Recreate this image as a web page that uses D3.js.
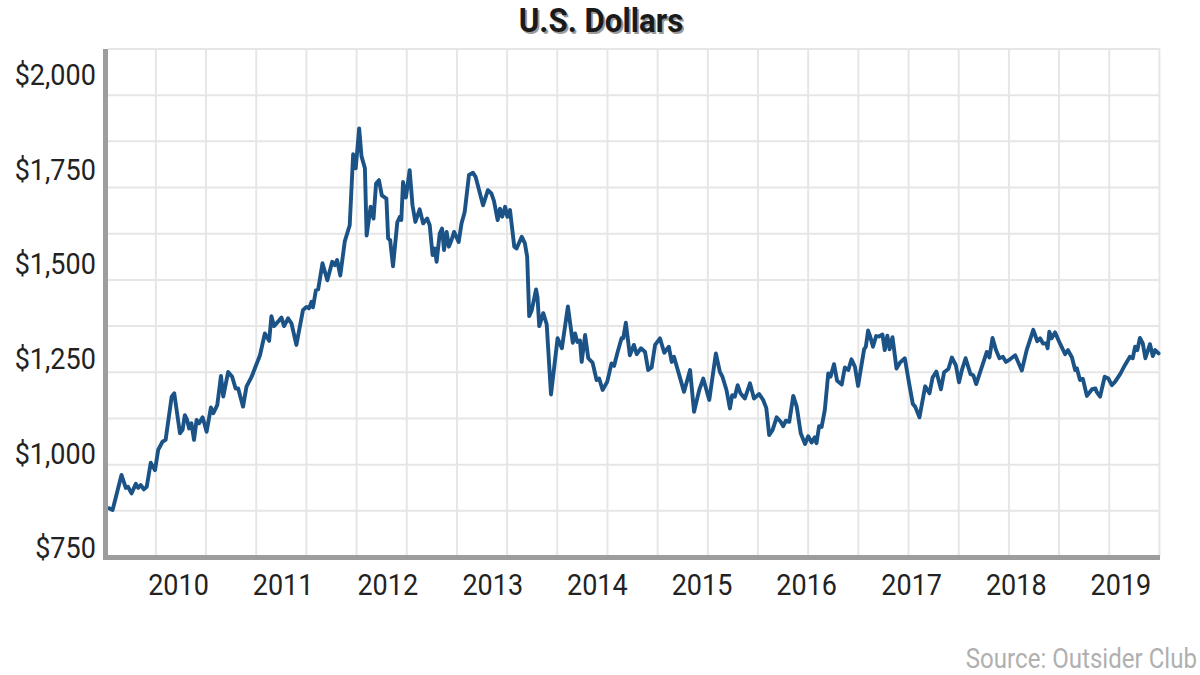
<!DOCTYPE html>
<html><head><meta charset="utf-8">
<script src="https://cdn.jsdelivr.net/npm/d3@7"></script>
<style>
body{margin:0;background:#fff;}
svg{display:block;}
text{font-family:Roboto,"Noto Sans",sans-serif;}
</style>
</head><body>
<svg id="chart" width="1200" height="675"></svg>
<script>
// ---------------- DATA ----------------
const dates = [
"2009-05-06","2009-05-18","2009-06-18","2009-07-03","2009-07-11","2009-07-23","2009-08-07","2009-08-15","2009-08-24","2009-09-04","2009-09-14","2009-09-28","2009-10-13","2009-10-24","2009-11-08","2009-11-19","2009-12-10","2009-12-19",
"2010-01-08","2010-01-17","2010-01-25","2010-02-02","2010-02-09","2010-02-17","2010-02-26","2010-03-07","2010-03-16","2010-03-28","2010-04-11","2010-04-26","2010-05-04","2010-05-18","2010-05-31","2010-06-08","2010-06-25","2010-07-09","2010-07-21","2010-07-30","2010-08-16","2010-08-28","2010-09-15","2010-09-26","2010-10-14","2010-10-31","2010-11-15","2010-11-23","2010-12-02","2010-12-16","2010-12-28",
"2011-01-06","2011-01-20","2011-02-01","2011-02-18","2011-03-13","2011-03-25","2011-04-03","2011-04-12","2011-04-17","2011-04-27","2011-05-05","2011-05-20","2011-06-06","2011-06-23","2011-07-02","2011-07-10","2011-07-21","2011-08-06","2011-08-23","2011-09-04","2011-09-13","2011-09-25","2011-10-03","2011-10-15","2011-10-21","2011-11-04","2011-11-14","2011-11-23","2011-12-03","2011-12-13","2011-12-29",
"2012-01-04","2012-01-11","2012-01-21","2012-02-05","2012-02-14","2012-02-19","2012-02-25","2012-03-06","2012-03-19","2012-03-29","2012-04-08","2012-04-23","2012-05-05","2012-05-19","2012-05-28","2012-06-07","2012-06-15","2012-06-21","2012-07-02","2012-07-10","2012-07-17","2012-07-26","2012-08-03","2012-08-12","2012-08-21","2012-09-06","2012-09-16","2012-09-27","2012-10-12","2012-10-26","2012-11-04","2012-11-30","2012-12-17","2012-12-29",
"2013-01-07","2013-01-20","2013-01-28","2013-02-05","2013-02-15","2013-02-23","2013-03-04","2013-03-19","2013-03-27","2013-04-14","2013-04-25","2013-05-03","2013-05-10","2013-05-19","2013-06-03","2013-06-08","2013-06-14","2013-06-28","2013-07-10","2013-07-25","2013-08-17","2013-09-01","2013-09-22","2013-10-09","2013-10-17","2013-10-25","2013-11-03","2013-11-09","2013-11-21","2013-12-02","2013-12-17","2013-12-31",
"2014-01-09","2014-01-21","2014-02-06","2014-02-21","2014-03-02","2014-03-13","2014-03-28","2014-04-03","2014-04-12","2014-04-26","2014-05-10","2014-05-20","2014-06-04","2014-06-18","2014-06-29","2014-07-11","2014-07-23","2014-08-09","2014-08-24","2014-09-09","2014-09-19","2014-09-27","2014-10-12","2014-11-01","2014-11-22","2014-12-06","2014-12-24",
"2015-01-07","2015-01-28","2015-02-20","2015-03-06","2015-03-15","2015-03-29","2015-04-10","2015-04-18","2015-04-27","2015-05-07","2015-05-17","2015-06-01","2015-06-19","2015-07-03","2015-07-21","2015-08-04","2015-08-15","2015-08-25","2015-09-06","2015-09-20","2015-10-04","2015-10-13","2015-10-22","2015-11-03","2015-11-17","2015-11-29","2015-12-13","2015-12-28",
"2016-01-08","2016-01-20","2016-01-31","2016-02-06","2016-02-15","2016-02-24","2016-03-06","2016-03-18","2016-03-26","2016-04-07","2016-04-18","2016-05-04","2016-05-15","2016-05-27","2016-06-07","2016-06-19","2016-06-30","2016-07-12","2016-07-21","2016-07-27","2016-08-04","2016-08-12","2016-08-21","2016-09-01","2016-09-11","2016-09-23","2016-10-01","2016-10-10","2016-10-18","2016-10-28","2016-11-02","2016-11-11","2016-11-23","2016-12-10","2016-12-25",
"2017-01-07","2017-01-15","2017-01-30","2017-02-19","2017-03-06","2017-03-17","2017-03-30","2017-04-15","2017-04-26","2017-05-11","2017-05-23","2017-06-06","2017-06-17","2017-06-27","2017-07-10","2017-07-27","2017-08-06","2017-08-16","2017-09-05","2017-09-22","2017-10-01","2017-10-12","2017-10-24","2017-11-05","2017-11-17","2017-11-28","2017-12-12","2017-12-30",
"2018-01-22","2018-02-08","2018-03-03","2018-03-17","2018-03-27","2018-04-06","2018-04-18","2018-04-22","2018-04-28","2018-05-06","2018-05-18","2018-06-04","2018-06-22","2018-07-02","2018-07-16","2018-07-27","2018-08-02","2018-08-13","2018-08-23","2018-09-06","2018-09-24","2018-10-06","2018-10-10","2018-10-22","2018-11-07","2018-11-20","2018-12-02","2018-12-13","2018-12-31",
"2019-01-17","2019-02-03","2019-02-13","2019-02-21","2019-03-01","2019-03-10","2019-03-20","2019-03-29","2019-04-14","2019-04-24","2019-05-02","2019-05-14"
];
const prices = [
882,877,972,937,940,922,948,937,945,933,940,1005,985,1040,1062,1067,1184,1193,
1085,1094,1134,1121,1098,1112,1067,1121,1112,1128,1089,1155,1139,1161,1240,1184,1251,1238,1206,1206,1157,1211,1238,1260,1296,1355,1335,1402,1375,1387,1398,
1375,1396,1382,1324,1418,1427,1423,1441,1426,1472,1474,1545,1499,1549,1540,1554,1512,1605,1648,1840,1802,1910,1835,1802,1620,1698,1666,1761,1770,1729,1720,
1612,1608,1537,1656,1671,1662,1765,1723,1797,1702,1657,1691,1653,1666,1648,1567,1585,1549,1626,1639,1581,1630,1590,1608,1630,1603,1653,1684,1784,1790,1779,1702,1743,1734,
1714,1662,1693,1671,1698,1671,1689,1590,1585,1617,1599,1562,1402,1418,1474,1453,1375,1410,1380,1190,1342,1315,1428,1330,1355,1332,1336,1278,1351,1288,1276,1229,
1233,1202,1224,1274,1267,1301,1342,1342,1384,1296,1324,1299,1315,1305,1256,1263,1324,1342,1303,1319,1278,1292,1251,1197,1256,1143,1202,
1233,1175,1301,1251,1238,1202,1152,1188,1184,1215,1193,1179,1220,1179,1191,1175,1153,1080,1094,1128,1116,1104,1119,1116,1186,1157,1085,1056,
1077,1060,1074,1058,1104,1102,1148,1247,1238,1272,1227,1217,1263,1256,1285,1265,1213,1270,1312,1319,1363,1345,1319,1348,1347,1352,1310,1349,1312,1345,1315,1260,1276,1288,1220,
1164,1157,1128,1212,1193,1236,1252,1204,1250,1259,1290,1269,1223,1256,1288,1245,1242,1218,1265,1305,1290,1343,1310,1288,1292,1278,1285,1296,
1255,1310,1365,1334,1342,1328,1328,1315,1360,1342,1358,1328,1299,1310,1290,1256,1261,1229,1232,1186,1204,1206,1197,1184,1238,1233,1215,1224,1245,
1270,1292,1288,1319,1310,1343,1328,1288,1326,1294,1310,1301
];
const yTickValues = [750, 1000, 1250, 1500, 1750, 2000];
const xTickYears = [2010, 2011, 2012, 2013, 2014, 2015, 2016, 2017, 2018, 2019];
const titleText = "U.S. Dollars";
const sourceText = "Source: Outsider Club";

// ---------------- LAYOUT ----------------
const svg = d3.select("#chart");
const parse = d3.timeParse("%Y-%m-%d");
const data = dates.map((d, i) => ({date: parse(d), value: prices[i]}));

const L = 108, R = 1160, T = 49, B = 557;
const x = d3.scaleTime().domain([parse("2009-05-02"), parse("2019-05-19")]).range([L, R]);
const y = d3.scaleLinear().domain([750, 2125]).range([B, T]);
const yLabel = d3.scaleLinear().domain([750, 2000]).range([548, 75]);

const gridColor = "#e6e6e6";
const grid = svg.append("g");
// horizontal grid every $125
grid.selectAll("line.h").data(d3.range(750, 2126, 125)).join("line")
  .attr("x1", L).attr("x2", R)
  .attr("y1", d => y(d)).attr("y2", d => y(d))
  .attr("stroke", gridColor).attr("stroke-width", 2);
// vertical grid every 175 days
const gStart = d3.timeDay.offset(x.domain()[0], 167);
const vDates = d3.range(0, 21).map(k => d3.timeDay.offset(gStart, 175 * k)).filter(d => d <= x.domain()[1]);
grid.selectAll("line.v").data(vDates).join("line")
  .attr("x1", d => x(d)).attr("x2", d => x(d))
  .attr("y1", T).attr("y2", B)
  .attr("stroke", gridColor).attr("stroke-width", 2);

// line
const line = d3.line().x(d => x(d.date)).y(d => y(d.value));
svg.append("path").datum(data)
  .attr("d", line)
  .attr("fill", "none")
  .attr("stroke", "#1b5387")
  .attr("stroke-width", 3.9)
  .attr("stroke-linejoin", "round")
  .attr("stroke-linecap", "round");

// axis bars
const axisColor = "#9d9d9d";
svg.append("rect").attr("x", L - 5).attr("y", T).attr("width", 5).attr("height", B - T + 3).attr("fill", axisColor);
svg.append("rect").attr("x", L - 5).attr("y", B - 2).attr("width", R - L + 5).attr("height", 5).attr("fill", axisColor);

// y labels
const yAxis = svg.append("g").attr("transform", `translate(${L - 5},0)`)
  .call(d3.axisLeft(yLabel).tickValues(yTickValues).tickSize(0).tickPadding(8)
    .tickFormat(d => "$" + d3.format(",")(d)));
yAxis.select(".domain").remove();
yAxis.selectAll("text").attr("font-size", 30).attr("fill", "#222")
  .attr("font-family", "Roboto").attr("transform", "scale(0.9,1)");

// x labels
const xAxis = svg.append("g").attr("transform", `translate(0,${B})`)
  .call(d3.axisBottom(x).tickValues(xTickYears.map(yr => new Date(yr, 0, 1)))
    .tickFormat(d3.timeFormat("%Y")).tickSize(0).tickPadding(17));
xAxis.select(".domain").remove();
xAxis.selectAll("text").attr("font-size", 30).attr("fill", "#222")
  .attr("font-family", "Roboto").attr("transform", "scale(0.9,1)");

// title with shadow
const tg = svg.append("g").attr("transform", "translate(601,32) scale(0.92,1)");
tg.append("text").attr("x", 2).attr("y", 2).attr("text-anchor", "middle")
  .attr("font-size", 34).attr("font-weight", 700).attr("fill", "#9a9a9a").text(titleText);
tg.append("text").attr("x", 0).attr("y", 0).attr("text-anchor", "middle")
  .attr("font-size", 34).attr("font-weight", 700).attr("fill", "#1a1a1a").text(titleText);

// source
svg.append("g").attr("transform", "translate(1197,668) scale(0.86,1)")
  .append("text").attr("text-anchor", "end").attr("font-size", 28)
  .attr("fill", "#b0b0b0").text(sourceText);
</script>
</body></html>
